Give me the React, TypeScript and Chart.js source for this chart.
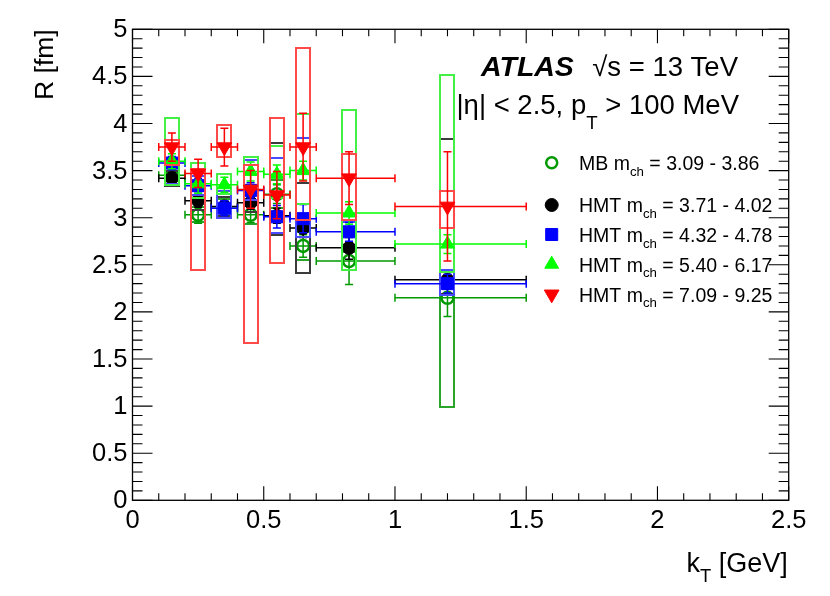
import { useEffect, useRef } from 'react';
import { Chart, registerables, Plugin } from 'chart.js';
import { drawPoint } from 'chart.js/helpers';

Chart.register(...registerables);

// kT bins [GeV]
const kT = [0.15, 0.25, 0.35, 0.45, 0.55, 0.65, 0.825, 1.2];
const kTLow = [0.1, 0.2, 0.3, 0.4, 0.5, 0.6, 0.7, 1.0];
const kTHigh = [0.2, 0.3, 0.4, 0.5, 0.6, 0.7, 1.0, 1.5];

// MB m_ch = 3.09 - 3.86
const mbR = [3.45, 3.03, 3.1, 3.03, 3.25, 2.7, 2.54, 2.15];
const mbStat = [0.05, 0.09, 0.06, 0.08, 0.1, 0.12, 0.25, 0.2];
const mbSysDown = [0.1, 0.08, 0.1, 0.1, 0.15, 0.15, 0.1, 1.16];
const mbSysUp = [0.1, 0.08, 0.1, 0.1, 0.15, 0.15, 0.1, 0.3];

// HMT m_ch = 3.71 - 4.02
const hmt1R = [3.42, 3.18, 3.12, 3.16, 3.02, 2.89, 2.68, 2.34];
const hmt1Stat = [0.06, 0.07, 0.06, 0.07, 0.08, 0.1, 0.12, 0.1];
const hmt1SysDown = [0.08, 0.1, 0.1, 0.1, 0.2, 0.48, 0.24, 0.15];
const hmt1SysUp = [0.08, 0.1, 0.1, 0.1, 0.77, 0.48, 0.2, 1.5];

// HMT m_ch = 4.32 - 4.78
const hmt2R = [3.58, 3.34, 3.1, 3.29, 3.01, 2.99, 2.85, 2.3];
const hmt2Stat = [0.07, 0.08, 0.08, 0.08, 0.12, 0.15, 0.1, 0.1];
const hmt2SysDown = [0.22, 0.1, 0.1, 0.1, 0.17, 0.2, 0.41, 0.12];
const hmt2SysUp = [0.05, 0.1, 0.18, 0.32, 0.62, 0.86, 0.1, 0.15];

// HMT m_ch = 5.40 - 6.17
const hmt3R = [3.6, 3.36, 3.35, 3.49, 3.46, 3.5, 3.05, 2.72];
const hmt3Stat = [0.08, 0.1, 0.08, 0.1, 0.1, 0.1, 0.12, 0.1];
const hmt3SysDown = [0.25, 0.15, 0.1, 0.15, 0.25, 0.35, 0.6, 0.3];
const hmt3SysUp = [0.46, 0.22, 0.11, 0.15, 0.3, 0.6, 1.09, 1.8];

// HMT m_ch = 7.09 - 9.25
const hmt4R = [3.75, 3.47, 3.75, 3.3, 3.24, 3.75, 3.42, 3.12];
const hmt4Stat = [0.15, 0.15, 0.2, 0.2, 0.25, 0.36, 0.28, 0.58];
const hmt4SysDown = [0.19, 1.03, 0.11, 1.63, 0.72, 0.77, 0.44, 0.23];
const hmt4SysUp = [0.08, 0.05, 0.23, 0.26, 0.82, 1.05, 0.26, 0.16];

const sampleNames = ['MB', 'HMT', 'HMT', 'HMT', 'HMT'];
const mchRanges = ['3.09 - 3.86', '3.71 - 4.02', '4.32 - 4.78', '5.40 - 6.17', '7.09 - 9.25'];

const xTickValues = [0, 0.5, 1, 1.5, 2, 2.5];
const xTickLabels = ['0', '0.5', '1', '1.5', '2', '2.5'];
const yTickValues = [0, 0.5, 1, 1.5, 2, 2.5, 3, 3.5, 4, 4.5, 5];
const yTickLabels = ['0', '0.5', '1', '1.5', '2', '2.5', '3', '3.5', '4', '4.5', '5'];

const FONT = '"Liberation Sans", Arial, Helvetica, sans-serif';

type Series = {
  r: number[];
  stat: number[];
  sysDown: number[];
  sysUp: number[];
  color: string;
  boxColor: string;
  pointStyle: 'circle' | 'rect' | 'triangle';
  radius: number;
  rotation: number;
  open: boolean;
};

const series: Series[] = [
  { r: mbR, stat: mbStat, sysDown: mbSysDown, sysUp: mbSysUp, color: '#009900', boxColor: '#2aa52a', pointStyle: 'circle', radius: 6, rotation: 0, open: true },
  { r: hmt1R, stat: hmt1Stat, sysDown: hmt1SysDown, sysUp: hmt1SysUp, color: '#000000', boxColor: '#3c3c3c', pointStyle: 'circle', radius: 6.5, rotation: 0, open: false },
  { r: hmt2R, stat: hmt2Stat, sysDown: hmt2SysDown, sysUp: hmt2SysUp, color: '#0000ff', boxColor: '#4a4aff', pointStyle: 'rect', radius: 8.5, rotation: 0, open: false },
  { r: hmt3R, stat: hmt3Stat, sysDown: hmt3SysDown, sysUp: hmt3SysUp, color: '#00ff00', boxColor: '#44f044', pointStyle: 'triangle', radius: 8, rotation: 0, open: false },
  { r: hmt4R, stat: hmt4Stat, sysDown: hmt4SysDown, sysUp: hmt4SysUp, color: '#ff0000', boxColor: '#ff4a4a', pointStyle: 'triangle', radius: 8.5, rotation: 180, open: false },
];

type Part = { t: string; sub?: boolean };

function drawRich(
  ctx: CanvasRenderingContext2D,
  parts: Part[],
  x: number,
  y: number,
  size: number,
  align: 'left' | 'right',
  drop = 0.3,
  style = '',
) {
  const subSize = size * 0.68;
  const widthOf = (p: Part) => {
    ctx.font = `${style}${p.sub ? subSize : size}px ${FONT}`;
    return ctx.measureText(p.t).width;
  };
  const total = parts.reduce((s, p) => s + widthOf(p), 0);
  let cx = align === 'right' ? x - total : x;
  ctx.textAlign = 'left';
  ctx.textBaseline = 'alphabetic';
  for (const p of parts) {
    const w = widthOf(p);
    ctx.fillText(p.t, cx, p.sub ? y + size * drop : y);
    cx += w;
  }
}

const hepPlugin: Plugin = {
  id: 'hepStyle',
  beforeDatasetDraw(chart, args) {
    const s = series[args.index];
    if (!s) return;
    const { ctx } = chart;
    const xs = chart.scales.x;
    const ys = chart.scales.y;
    const cap = 4;
    const halfBox = 7;
    ctx.save();
    // systematic boxes, snapped to whole pixels so overlapping edges cover each other
    ctx.strokeStyle = s.boxColor;
    ctx.lineWidth = 2;
    kT.forEach((k, i) => {
      const px = Math.round(xs.getPixelForValue(k));
      const top = Math.round(ys.getPixelForValue(s.r[i] + s.sysUp[i]));
      const bot = Math.round(ys.getPixelForValue(s.r[i] - s.sysDown[i]));
      ctx.strokeRect(px - halfBox, top, halfBox * 2, bot - top);
    });
    // statistical error bars and bin widths
    ctx.strokeStyle = s.color;
    ctx.lineWidth = 1.5;
    kT.forEach((k, i) => {
      const px = xs.getPixelForValue(k);
      const py = ys.getPixelForValue(s.r[i]);
      const x0 = xs.getPixelForValue(kTLow[i]);
      const x1 = xs.getPixelForValue(kTHigh[i]);
      const y0 = ys.getPixelForValue(s.r[i] + s.stat[i]);
      const y1 = ys.getPixelForValue(s.r[i] - s.stat[i]);
      ctx.beginPath();
      ctx.moveTo(x0, py);
      ctx.lineTo(x1, py);
      ctx.moveTo(x0, py - cap);
      ctx.lineTo(x0, py + cap);
      ctx.moveTo(x1, py - cap);
      ctx.lineTo(x1, py + cap);
      ctx.moveTo(px, y0);
      ctx.lineTo(px, y1);
      ctx.moveTo(px - cap, y0);
      ctx.lineTo(px + cap, y0);
      ctx.moveTo(px - cap, y1);
      ctx.lineTo(px + cap, y1);
      ctx.stroke();
    });
    ctx.restore();
  },
  afterDraw(chart) {
    const { ctx, chartArea } = chart;
    const xs = chart.scales.x;
    const ys = chart.scales.y;
    const { left, right, top, bottom } = chartArea;
    ctx.save();
    ctx.strokeStyle = '#000';
    ctx.lineWidth = 1.3;
    ctx.strokeRect(left, top, right - left, bottom - top);

    // ticks on all four sides, pointing inward
    ctx.lineWidth = 1.1;
    ctx.beginPath();
    for (let i = 0; i <= 25; i++) {
      const px = xs.getPixelForValue(i / 10);
      const len = i % 5 === 0 ? 14 : 7;
      ctx.moveTo(px, bottom);
      ctx.lineTo(px, bottom - len);
      ctx.moveTo(px, top);
      ctx.lineTo(px, top + len);
    }
    for (let i = 0; i <= 50; i++) {
      const py = ys.getPixelForValue(i / 10);
      const len = i % 5 === 0 ? 20 : 10;
      ctx.moveTo(left, py);
      ctx.lineTo(left + len, py);
      ctx.moveTo(right, py);
      ctx.lineTo(right - len, py);
    }
    ctx.stroke();

    // tick labels
    ctx.fillStyle = '#000';
    ctx.font = `25.5px ${FONT}`;
    ctx.textAlign = 'center';
    ctx.textBaseline = 'alphabetic';
    xTickValues.forEach((v, i) => {
      ctx.fillText(xTickLabels[i], xs.getPixelForValue(v), bottom + 27.5);
    });
    ctx.textAlign = 'right';
    ctx.textBaseline = 'middle';
    yTickValues.forEach((v, i) => {
      ctx.fillText(yTickLabels[i], left - 5, ys.getPixelForValue(v) + 1);
    });

    // axis titles
    drawRich(ctx, [{ t: 'k' }, { t: 'T', sub: true }, { t: ' [GeV]' }], right - 1, bottom + 71.5, 27, 'right', 0.37);
    ctx.save();
    ctx.translate(53, top);
    ctx.rotate(-Math.PI / 2);
    ctx.font = `26.5px ${FONT}`;
    ctx.textAlign = 'right';
    ctx.textBaseline = 'alphabetic';
    ctx.fillText('R [fm]', 0, 0);
    ctx.restore();

    // ATLAS label
    ctx.font = `italic bold 28.5px ${FONT}`;
    ctx.textAlign = 'left';
    ctx.textBaseline = 'alphabetic';
    ctx.fillText('ATLAS', 481, 76);
    drawRich(ctx, [{ t: '\u221As = 13 TeV' }], 738, 76, 27.5, 'right');
    drawRich(ctx, [{ t: '|\u03B7| < 2.5, p' }, { t: 'T', sub: true }, { t: ' > 100 MeV' }], 739, 114, 27.5, 'right', 0.55);

    // legend
    const rowsY = [162.7, 205, 234.5, 264.2, 294.3];
    series.forEach((s, i) => {
      const y = rowsY[i];
      ctx.save();
      ctx.fillStyle = s.open ? 'rgba(0,0,0,0)' : s.color;
      ctx.strokeStyle = s.color;
      ctx.lineWidth = s.open ? 2.5 : 1;
      drawPoint(ctx, { pointStyle: s.pointStyle, radius: s.open ? 5.5 : s.radius, rotation: s.rotation, borderWidth: s.open ? 2.5 : 1 }, 551.7, y);
      ctx.restore();
      ctx.fillStyle = '#000';
      drawRich(ctx, [{ t: `${sampleNames[i]} m` }, { t: 'ch', sub: true }, { t: ` = ${mchRanges[i]}` }], 579, y + 7.3, 19.5, 'left', 0.3);
    });
    ctx.restore();
  },
};

export default function App() {
  const canvasRef = useRef<HTMLCanvasElement | null>(null);
  const chartRef = useRef<Chart | null>(null);

  useEffect(() => {
    if (!canvasRef.current) return undefined;
    chartRef.current?.destroy();
    chartRef.current = new Chart(canvasRef.current, {
      type: 'scatter',
      data: {
        datasets: series.map((s, idx) => ({
          label: `${sampleNames[idx]} ${mchRanges[idx]}`,
          data: kT.map((k, i) => ({ x: k, y: s.r[i] })),
          order: series.length - idx,
          pointStyle: s.pointStyle,
          pointRadius: s.radius,
          pointRotation: s.rotation,
          pointBackgroundColor: s.open ? 'rgba(0,0,0,0)' : s.color,
          pointBorderColor: s.color,
          pointBorderWidth: s.open ? 2.5 : 1,
          showLine: false,
        })),
      },
      options: {
        animation: false,
        responsive: false,
        devicePixelRatio: 1,
        layout: { padding: { left: 132.5, right: 41.3, top: 29.3, bottom: 95.7 } },
        scales: {
          x: { type: 'linear', min: 0, max: 2.5, display: false },
          y: { type: 'linear', min: 0, max: 5, display: false },
        },
        plugins: {
          legend: { display: false },
          tooltip: { enabled: false },
        },
      },
      plugins: [hepPlugin],
    });
    return () => {
      chartRef.current?.destroy();
      chartRef.current = null;
    };
  }, []);

  return (
    <div style={{ position: 'absolute', left: 0, top: 0, width: 830, height: 596, background: '#fff' }}>
      <canvas ref={canvasRef} width={830} height={596} style={{ display: 'block' }} />
    </div>
  );
}
